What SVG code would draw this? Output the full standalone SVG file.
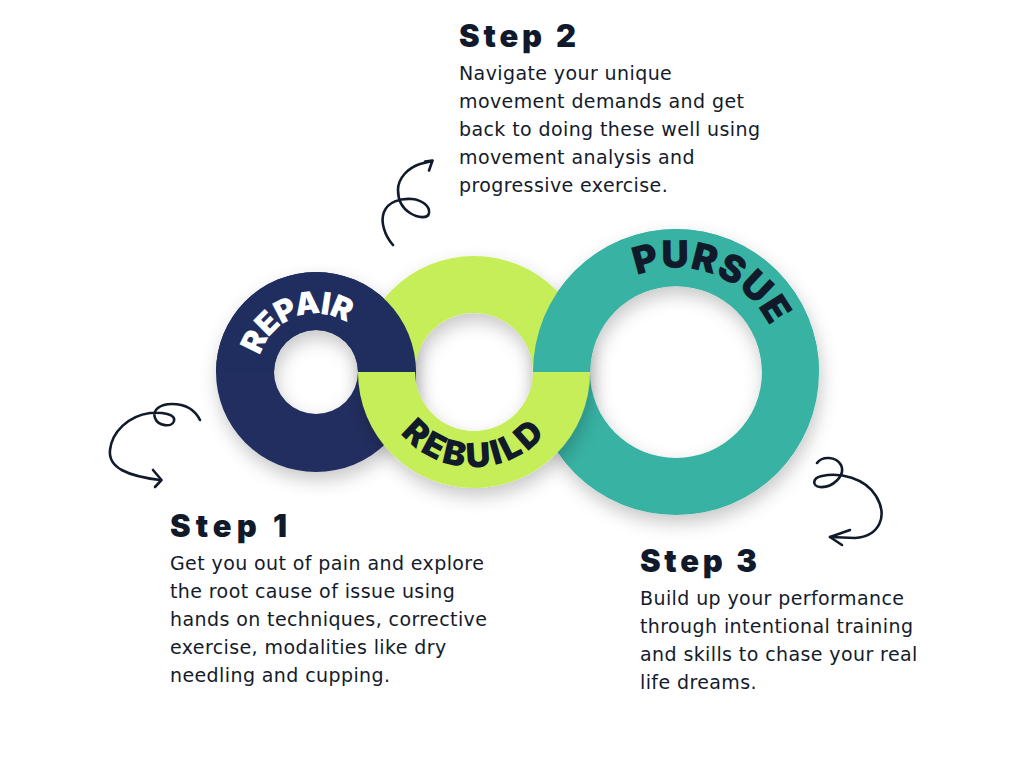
<svg xmlns="http://www.w3.org/2000/svg" width="1024" height="768" viewBox="0 0 1024 768">
<defs>
<style>
.head{font-family:"Inter","DejaVu Sans",sans-serif;font-weight:900;font-size:31px;fill:#111a2b}
.body{font-family:"DejaVu Sans","Liberation Sans",sans-serif;font-size:19px;letter-spacing:0.4px;fill:#141b2b}
.ringtxt{font-family:"Inter","DejaVu Sans",sans-serif;font-weight:900}
.squig{fill:none;stroke:#111a2b;stroke-width:2.6;stroke-linecap:round;stroke-linejoin:round}
</style>
<filter id="sh" x="-30%" y="-30%" width="160%" height="170%">
<feDropShadow dx="2" dy="8" stdDeviation="9" flood-color="#000" flood-opacity="0.22"/>
</filter>
<path id="pRepair" d="M260.0,355.9 A58,58 0 0 1 349.3,324.5"/>
<path id="pRebuild" d="M400.6,433.5 A95,95 0 0 0 548.6,430.5"/>
<path id="pPursue" d="M637.0,275.6 A104,104 0 0 1 771.2,329.7"/>
</defs>
<rect width="1024" height="768" fill="#ffffff"/>

<g id="rings">
<g id="repair-ring">
<path filter="url(#sh)" fill="#202e5f" fill-rule="evenodd" d="M216,372 A100,100 0 1 0 416,372 A100,100 0 1 0 216,372 Z M274,372 A42,42 0 1 1 358,372 A42,42 0 1 1 274,372 Z"/>
</g>
<g id="pursue-ring">
<path filter="url(#sh)" fill="#38b2a3" fill-rule="evenodd" d="M533,372 A143,143 0 1 0 819,372 A143,143 0 1 0 533,372 Z M590,372 A86,86 0 1 1 762,372 A86,86 0 1 1 590,372 Z"/>
</g>
<g id="rebuild-ring">
<path filter="url(#sh)" fill="#c6ee58" fill-rule="evenodd" d="M358,372 A116,116 0 1 0 590,372 A116,116 0 1 0 358,372 Z M415,372 A59,59 0 1 1 533,372 A59,59 0 1 1 415,372 Z"/>
<text class="ringtxt" font-size="34" fill="#111a2b"><textPath href="#pRebuild" textLength="164" lengthAdjust="spacing">REBUILD</textPath></text>
</g>
<g id="repair-top">
<path fill="#202e5f" d="M216,372 A100,100 0 0 1 416,372 L358,372 A42,42 0 0 0 274,372 Z"/>
<text class="ringtxt" font-size="31" fill="#ffffff"><textPath href="#pRepair" textLength="108" lengthAdjust="spacing">REPAIR</textPath></text>
</g>
<g id="pursue-top">
<path fill="#38b2a3" d="M533,372 A143,143 0 0 1 819,372 L762,372 A86,86 0 0 0 590,372 Z"/>
<text class="ringtxt" font-size="38" fill="#111a2b"><textPath href="#pPursue" textLength="156" lengthAdjust="spacing">PURSUE</textPath></text>
</g>
</g>

<g id="connectors">
<path class="squig" d="M393,245 C385,236 380,222 384,212 C388,202 400,198 412,199 C422,200 430,206 429,213 C428,219 418,218 410,213 C402,208 398,200 398,190 C398,178 408,168 420,164 L432,161"/>
<path class="squig" d="M425,161.5 L432.5,160.5 L429,170.5"/>
<path class="squig" d="M200,420 C195,410 185,404 172,404 C160,404 152,410 155,418 C158,426 172,428 174,421 C176,414 162,412 150,413 C128,416 112,432 110,450 C108,468 128,476 160,480"/>
<path class="squig" d="M153,470 L161.5,480 L155,487"/>
<path class="squig" d="M817,463 C822,456 836,456 841,465 C846,476 832,488 820,487 C812,486 812,478 822,476 C840,472 865,478 876,496 C888,516 880,536 855,538 L830,537"/>
<path class="squig" d="M850,530 L830,537 L842,545"/>
</g>

<g id="step1">
<text class="head" x="170" y="537" textLength="117" lengthAdjust="spacing">Step 1</text>
<text class="body" x="170" y="570">Get you out of pain and explore</text>
<text class="body" x="170" y="598">the root cause of issue using</text>
<text class="body" x="170" y="626">hands on techniques, corrective</text>
<text class="body" x="170" y="654">exercise, modalities like dry</text>
<text class="body" x="170" y="682">needling and cupping.</text>
</g>
<g id="step2">
<text class="head" x="459" y="47" textLength="117" lengthAdjust="spacing">Step 2</text>
<text class="body" x="459" y="80">Navigate your unique</text>
<text class="body" x="459" y="108">movement demands and get</text>
<text class="body" x="459" y="136">back to doing these well using</text>
<text class="body" x="459" y="164">movement analysis and</text>
<text class="body" x="459" y="192">progressive exercise.</text>
</g>
<g id="step3">
<text class="head" x="640" y="572" textLength="117" lengthAdjust="spacing">Step 3</text>
<text class="body" x="640" y="605">Build up your performance</text>
<text class="body" x="640" y="633">through intentional training</text>
<text class="body" x="640" y="661">and skills to chase your real</text>
<text class="body" x="640" y="689">life dreams.</text>
</g>
</svg>
